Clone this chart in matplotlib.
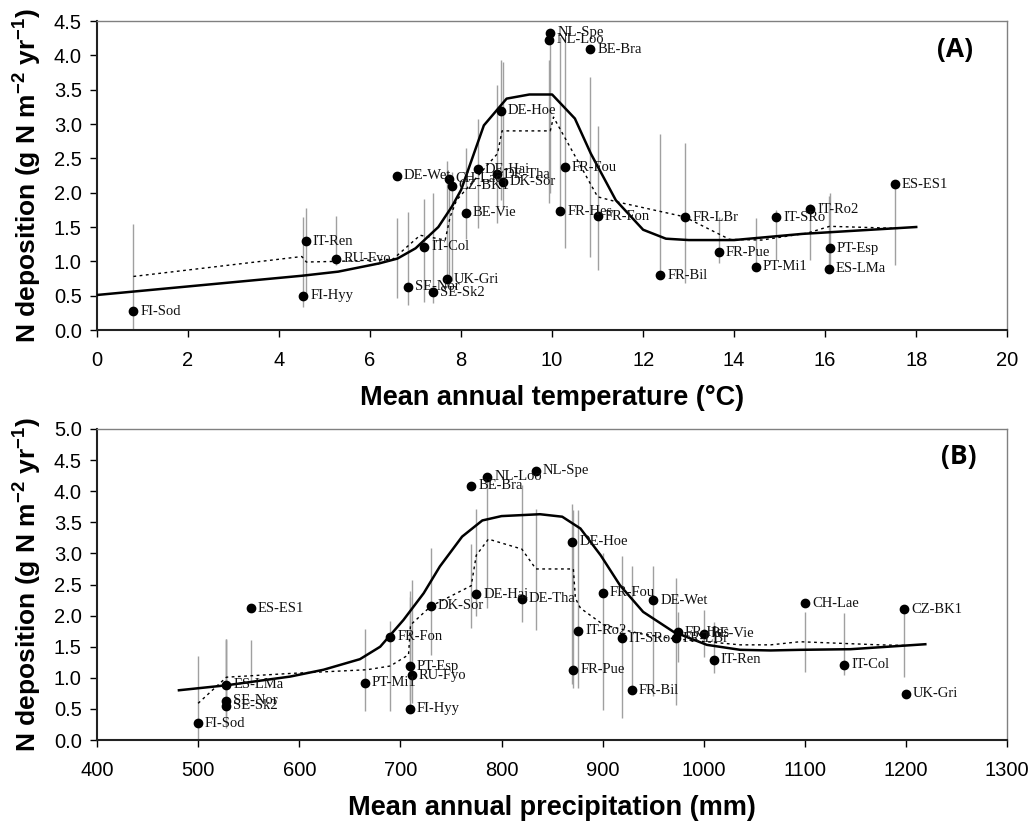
import matplotlib
matplotlib.use('Agg')
import matplotlib.pyplot as plt

plt.rcParams['font.family'] = ['Liberation Sans', 'DejaVu Sans']
plt.rcParams['mathtext.fontset'] = 'custom'
plt.rcParams['mathtext.bf'] = 'Liberation Sans:bold'
plt.rcParams['mathtext.rm'] = 'Liberation Sans'

# site data (same N deposition in both panels)
sites = ['FI-Sod', 'IT-Ren', 'FI-Hyy', 'RU-Fyo', 'DE-Wet', 'SE-Nor', 'IT-Col', 'SE-Sk2',
         'UK-Gri', 'CH-Lae', 'CZ-BK1', 'BE-Vie', 'DE-Hai', 'DE-Tha', 'DK-Sor', 'DE-Hoe',
         'NL-Spe', 'NL-Loo', 'BE-Bra', 'FR-Fou', 'FR-Hes', 'FR-Fon', 'FR-Bil', 'FR-LBr',
         'FR-Pue', 'PT-Mi1', 'IT-SRo', 'IT-Ro2', 'PT-Esp', 'ES-LMa', 'ES-ES1']
ndep = [0.27, 1.29, 0.50, 1.04, 2.25, 0.63, 1.21, 0.55,
        0.74, 2.20, 2.10, 1.71, 2.34, 2.27, 2.16, 3.19,
        4.33, 4.23, 4.09, 2.37, 1.73, 1.66, 0.80, 1.64,
        1.13, 0.92, 1.64, 1.76, 1.19, 0.89, 2.12]
temp = [0.80, 4.59, 4.53, 5.26, 6.59, 6.84, 7.19, 7.38,
        7.69, 7.73, 7.79, 8.11, 8.37, 8.78, 8.92, 8.88,
        9.96, 9.94, 10.84, 10.28, 10.18, 11.00, 12.38, 12.93,
        13.66, 14.48, 14.92, 15.67, 16.10, 16.08, 17.53]
precip = [500, 1010, 709, 711, 950, 528, 1139, 528,
          1200, 1100, 1198, 1000, 775, 820, 730, 870,
          834, 786, 770, 900, 974, 690, 929, 972,
          871, 665, 919, 876, 709, 528, 552]

# grey range bars, panel A
err_lo_a = [0.00, 0.45, 0.33, 0.95, 0.47, 0.37, 0.41, 0.40,
            0.62, 0.68, 0.72, 1.33, 1.48, 1.56, 1.75, 1.89,
            2.00, 1.85, 1.07, 1.20, 1.70, 0.87, 0.80, 0.68,
            0.97, 0.92, 1.02, 1.02, 0.92, 0.89, 0.95]
err_hi_a = [1.54, 1.78, 1.65, 1.66, 1.63, 1.72, 1.91, 2.00,
            2.46, 2.20, 2.30, 2.65, 3.07, 3.57, 3.90, 3.93,
            4.33, 3.93, 3.68, 4.27, 4.27, 2.97, 2.85, 2.73,
            1.64, 1.63, 1.75, 1.84, 2.00, 1.95, 2.12]
# grey range bars, panel B
err_lo_b = [0.00, 1.07, 0.49, 0.59, 0.70, 0.19, 1.05, 0.25,
            0.73, 1.10, 1.02, 1.34, 2.00, 1.90, 1.37, 0.90,
            1.77, 2.12, 1.80, 0.48, 1.26, 0.46, 0.80, 0.56,
            0.83, 0.46, 0.35, 0.83, 0.64, 0.50, 0.91]
err_hi_b = [1.35, 1.90, 2.30, 2.57, 2.79, 1.63, 2.04, 1.60,
            0.73, 2.06, 2.10, 2.09, 3.72, 4.10, 3.09, 3.79,
            3.72, 4.22, 3.15, 3.00, 2.06, 1.91, 2.79, 2.60,
            3.70, 1.78, 2.96, 3.70, 2.40, 1.63, 1.61]

# smooth fit (solid) and running mean (dotted), panel A
fit_a_x = [0, 4.5, 5.3, 6.2, 6.6, 7.0, 7.5, 7.8, 8.0, 8.5, 9.0, 9.5, 10.0, 10.5,
           10.85, 11.4, 12.0, 12.5, 13.0, 14.0, 15.5, 18.0]
fit_a_y = [0.51, 0.79, 0.85, 0.97, 1.04, 1.19, 1.50, 1.80, 2.04, 2.98, 3.37, 3.43, 3.43, 3.08,
           2.57, 1.89, 1.46, 1.33, 1.31, 1.31, 1.40, 1.50]
mov_a_x = [0.8, 4.5, 4.6, 5.3, 6.5, 7.1, 7.65, 7.76, 7.9, 8.8, 8.9, 9.96, 10.03, 11.0,
           11.4, 12.9, 13.9, 14.6, 15.6, 16.1, 17.6]
mov_a_y = [0.78, 1.07, 0.99, 1.00, 1.03, 1.38, 1.31, 1.65, 1.89, 2.57, 2.90, 2.90, 3.10, 1.94,
           1.87, 1.65, 1.32, 1.31, 1.41, 1.51, 1.48]

# panel B
fit_b_x = [481, 528, 591, 624, 660, 680, 703, 723, 739, 761, 781, 800, 838, 860, 878, 898,
           917, 940, 970, 1003, 1036, 1066, 1095, 1145, 1219]
fit_b_y = [0.80, 0.88, 1.02, 1.13, 1.30, 1.50, 1.93, 2.36, 2.79, 3.27, 3.53, 3.60, 3.63, 3.59,
           3.40, 2.97, 2.49, 2.06, 1.74, 1.53, 1.45, 1.44, 1.45, 1.46, 1.54]
mov_b_x = [500, 528, 591, 667, 690, 708, 710, 730, 770, 775, 787, 820, 834, 871, 873, 878,
           901, 937, 970, 1036, 1066, 1095, 1174, 1200]
mov_b_y = [0.59, 1.01, 1.07, 1.13, 1.19, 1.37, 1.85, 2.15, 2.48, 2.97, 3.23, 3.07, 2.75, 2.75,
           2.28, 2.12, 1.85, 1.71, 1.63, 1.53, 1.53, 1.58, 1.53, 1.52]

fig = plt.figure(figsize=(10.32, 8.25), dpi=100)
axA = fig.add_axes([0.094, 0.600, 0.882, 0.3745])
axB = fig.add_axes([0.094, 0.103, 0.882, 0.377])

ylab = r'N deposition (g N m$^{\mathbf{-2}}$ yr$^{\mathbf{-1}}$)'


def draw_panel(ax, xs, lo, hi, fx, fy, mx, my):
    ax.vlines(xs, lo, hi, colors='#a0a0a0', linewidth=1, zorder=1)
    ax.plot(mx, my, color='black', linewidth=1, linestyle=(0, (2, 2.5)), zorder=2)
    ax.plot(fx, fy, color='black', linewidth=1.8, zorder=3)
    ax.plot(xs, ndep, 'o', color='black', markersize=6, zorder=4)
    for name, x, y in zip(sites, xs, ndep):
        ax.annotate(name, (x, y), xytext=(5, 0), textcoords='offset points',
                    va='center', ha='left', fontsize=10.5, family='Liberation Serif',
                    color='#111111', zorder=5)
    for s in ['top', 'right']:
        ax.spines[s].set_color('#808080')
        ax.spines[s].set_linewidth(1)
    for s in ['left', 'bottom']:
        ax.spines[s].set_color('#222222')
        ax.spines[s].set_linewidth(1.5)
    ax.tick_params(direction='out', length=5, width=1, labelsize=14.5)
    ax.tick_params(axis='x', pad=10)
    ax.tick_params(axis='y', pad=6)
    ax.set_ylabel(ylab, fontsize=19, fontweight='bold', labelpad=8)


draw_panel(axA, temp, err_lo_a, err_hi_a, fit_a_x, fit_a_y, mov_a_x, mov_a_y)
axA.set_xlim(0, 20)
axA.set_ylim(0, 4.5)
axA.set_xticks(range(0, 21, 2))
axA.set_yticks([i * 0.5 for i in range(10)])
axA.set_yticklabels(['%.1f' % (i * 0.5) for i in range(10)])
axA.set_xlabel('Mean annual temperature (°C)', fontsize=19.5, fontweight='bold', labelpad=11)
axA.text(0.943, 0.909, '(A)', transform=axA.transAxes, fontsize=19, fontweight='bold',
         family='Open Sans', ha='center', va='center')

draw_panel(axB, precip, err_lo_b, err_hi_b, fit_b_x, fit_b_y, mov_b_x, mov_b_y)
axB.set_xlim(400, 1300)
axB.set_ylim(0, 5.0)
axB.set_xticks(range(400, 1301, 100))
axB.set_yticks([i * 0.5 for i in range(11)])
axB.set_yticklabels(['%.1f' % (i * 0.5) for i in range(11)])
axB.set_xlabel('Mean annual precipitation (mm)', fontsize=19.5, fontweight='bold', labelpad=11)
axB.text(0.947, 0.913, '(B)', transform=axB.transAxes, fontsize=19, fontweight='bold',
         family='Open Sans', ha='center', va='center')

fig.savefig('out.png', dpi=100)
